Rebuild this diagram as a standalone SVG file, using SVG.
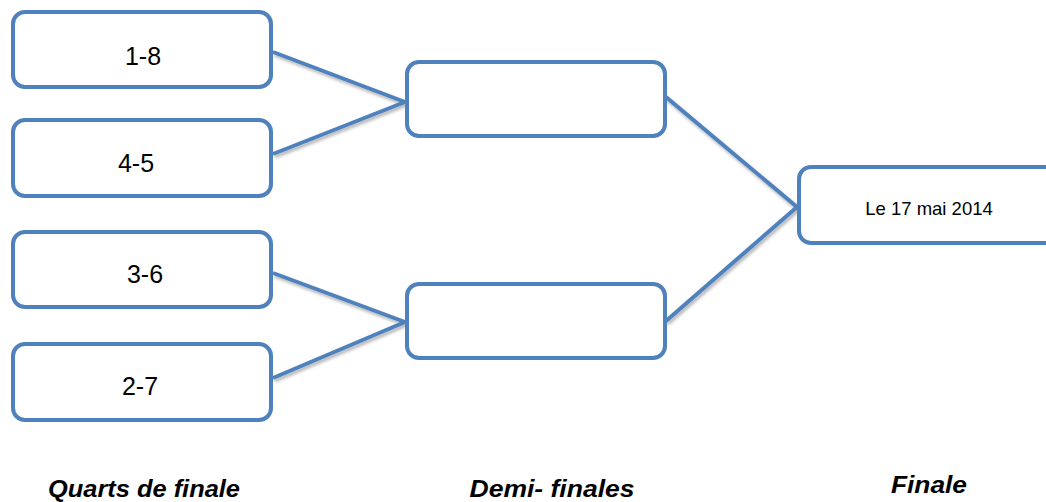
<svg xmlns="http://www.w3.org/2000/svg" width="1046" height="502" viewBox="0 0 1046 502">
<style>
.box{fill:#ffffff;stroke:#4F81BD;stroke-width:4}
.conn{stroke:#4F81BD;stroke-width:4;fill:none;stroke-linecap:butt}
.t{font-family:"Liberation Sans",Arial,sans-serif;fill:#000;text-anchor:middle}
.q{font-size:25px}
.f{font-size:18.5px}
.lab{font-family:"Liberation Sans",Arial,sans-serif;font-weight:bold;font-style:italic;font-size:24px;fill:#000;text-anchor:middle}
</style>
<defs>
<filter id="sh" x="-10%" y="-10%" width="130%" height="140%">
<feDropShadow dx="1.5" dy="2.5" stdDeviation="1.5" flood-color="#000" flood-opacity="0.3"/>
</filter>
</defs>
<rect width="1046" height="502" fill="#ffffff"/>
<g id="connectors" filter="url(#sh)">
<line class="conn" x1="273" y1="52" x2="405" y2="102"/>
<line class="conn" x1="273" y1="154" x2="405" y2="102"/>
<line class="conn" x1="273" y1="273" x2="405" y2="322"/>
<line class="conn" x1="273" y1="378" x2="405" y2="322"/>
<line class="conn" x1="666" y1="97" x2="797" y2="207"/>
<line class="conn" x1="666" y1="321" x2="797" y2="207"/>
</g>
<g id="q1"><rect class="box" x="13" y="12" width="258" height="75" rx="12"/><text class="t q" x="143" y="65">1-8</text></g>
<g id="q2"><rect class="box" x="13" y="120" width="258" height="76" rx="12"/><text class="t q" x="136" y="172">4-5</text></g>
<g id="q3"><rect class="box" x="13" y="232" width="258" height="75" rx="12"/><text class="t q" x="145" y="283">3-6</text></g>
<g id="q4"><rect class="box" x="13" y="344" width="258" height="76" rx="12"/><text class="t q" x="140" y="395">2-7</text></g>
<g id="s1"><rect class="box" x="407" y="62" width="258" height="74" rx="12"/></g>
<g id="s2"><rect class="box" x="407" y="284" width="258" height="74" rx="12"/></g>
<g id="final"><rect class="box" x="799" y="167" width="262" height="76" rx="12"/><text class="t f" x="929" y="215">Le 17 mai 2014</text></g>
<g id="labels">
<text class="lab" x="144" y="497" textLength="192" lengthAdjust="spacingAndGlyphs">Quarts de finale</text>
<text class="lab" x="552" y="497" textLength="165" lengthAdjust="spacingAndGlyphs">Demi- finales</text>
<text class="lab" x="929" y="493" textLength="76" lengthAdjust="spacingAndGlyphs">Finale</text>
</g>
</svg>
